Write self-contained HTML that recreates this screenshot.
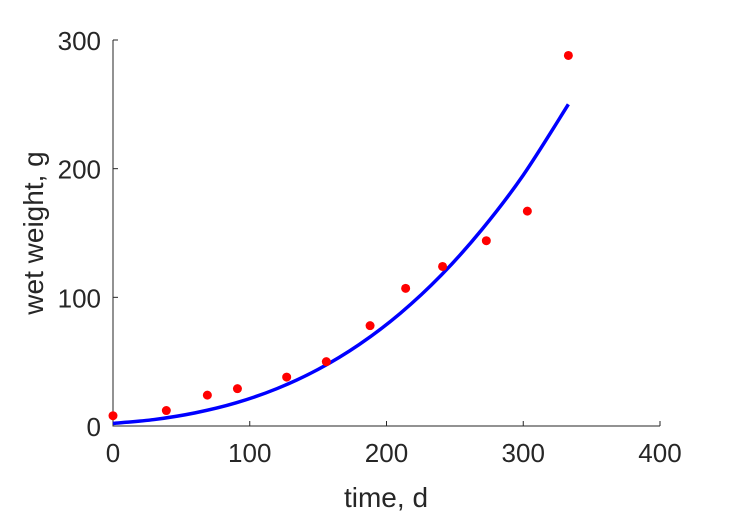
<!DOCTYPE html>
<html><head><meta charset="utf-8"><style>
html,body{margin:0;padding:0;background:#fff;}
svg{display:block;font-family:"Liberation Sans",sans-serif;}
</style></head><body>
<svg id="chart" width="729" height="521" viewBox="0 0 729 521"></svg>
<script>
const dataT = [0, 39, 69, 91, 127, 156, 188, 214, 241, 273, 303, 333];
const dataW = [8, 12, 24, 29, 38, 50, 78, 107, 124, 144, 167, 288];
const fitT = [0, 30, 60, 90, 120, 150, 180, 210, 240, 270, 300, 333];
const fitW = [2, 5, 10.2, 18, 29.1, 44, 63.3, 87.5, 117.2, 153, 195, 250];
const xTicks = [0, 100, 200, 300, 400];
const yTicks = [0, 100, 200, 300];

const NS = "http://www.w3.org/2000/svg";
const svg = document.getElementById("chart");
const X0 = 113, X1 = 660, Y0 = 426, Y1 = 40;
const sx = v => X0 + (v - 0) / 400 * (X1 - X0);
const sy = v => Y0 - (v - 0) / 300 * (Y0 - Y1);
function mk(tag, attrs) { const e = document.createElementNS(NS, tag); for (const k in attrs) e.setAttribute(k, attrs[k]); svg.appendChild(e); return e; }

const ax = mk("path", {d:`M${X0},${Y1}H${X0}V${Y0}H${X1}`, fill:"none", stroke:"#262626", "stroke-width":1});



xTicks.forEach(v => {
  const t = mk("line", {x1:sx(v), x2:sx(v), y1:Y0, y2:Y0-5, stroke:"#262626"});
  
  
  const l = mk("text", {x:sx(v), y:Y0+36, "text-anchor":"middle", "font-size":26, fill:"#262626"});
  l.textContent = v;
  
  
});
yTicks.forEach(v => {
  const t = mk("line", {x1:X0, x2:X0+5, y1:sy(v), y2:sy(v), stroke:"#262626"});
  
  
  const l = mk("text", {x:X0-12, y:sy(v)+10, "text-anchor":"end", "font-size":26, fill:"#262626"});
  l.textContent = v;
  
  
});

const xl = mk("text", {x:386, y:507, "text-anchor":"middle", "font-size":28, fill:"#262626"});
xl.textContent = "time, d";


const yl = mk("text", {x:0, y:0, transform:"translate(43,233) rotate(-90)", "text-anchor":"middle", "font-size":28, fill:"#262626"});
yl.textContent = "wet weight, g";



// smooth fit curve via Catmull-Rom
const pts = fitT.map((t,i) => [sx(t), sy(fitW[i])]);
let d = `M${pts[0][0]},${pts[0][1]}`;
for (let i = 0; i < pts.length - 1; i++) {
  const p0 = pts[Math.max(0,i-1)], p1 = pts[i], p2 = pts[i+1], p3 = pts[Math.min(pts.length-1,i+2)];
  const c1 = [p1[0] + (p2[0]-p0[0])/6, p1[1] + (p2[1]-p0[1])/6];
  const c2 = [p2[0] - (p3[0]-p1[0])/6, p2[1] - (p3[1]-p1[1])/6];
  d += ` C${c1[0]},${c1[1]} ${c2[0]},${c2[1]} ${p2[0]},${p2[1]}`;
}
const fit = mk("path", {d, fill:"none", stroke:"#0000ff", "stroke-width":3.5});



dataT.forEach((t,i) => {
  const c = mk("circle", {cx:sx(t), cy:sy(dataW[i]), r:4.5, fill:"#ff0000"});
  
  
});
</script>
</body></html>
